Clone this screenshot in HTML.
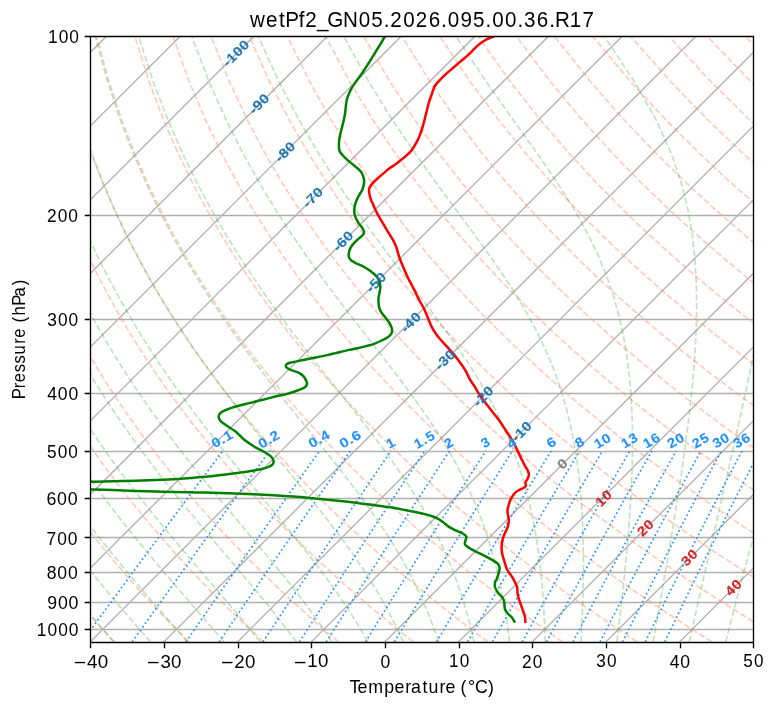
<!DOCTYPE html>
<html><head><meta charset="utf-8"><title>Skew-T wetPf2_GN05.2026.095.00.36.R17</title><style>html,body{margin:0;padding:0;background:#fff}body{width:775px;height:708px;overflow:hidden}svg{display:block;will-change:transform}text{white-space:pre;font-family:"Liberation Sans",sans-serif}</style></head><body><svg width="775" height="708" viewBox="0 0 775 708">
<defs><clipPath id="ax"><rect x="90.2" y="36.4" width="663" height="605.48"/></clipPath></defs>
<g clip-path="url(#ax)">
<g fill="none" stroke="#b0b0b0" stroke-width="1.33" stroke-linecap="square"><path d="M-572.8,641.88 L32.68,36.4"/><path d="M-499.13,641.88 L106.35,36.4"/><path d="M-425.47,641.88 L180.01,36.4"/><path d="M-351.8,641.88 L253.68,36.4"/><path d="M-278.13,641.88 L327.35,36.4"/><path d="M-204.47,641.88 L401.01,36.4"/><path d="M-130.8,641.88 L474.68,36.4"/><path d="M-57.13,641.88 L548.35,36.4"/><path d="M16.53,641.88 L622.01,36.4"/><path d="M90.2,641.88 L695.68,36.4"/><path d="M163.87,641.88 L769.35,36.4"/><path d="M237.53,641.88 L843.01,36.4"/><path d="M311.2,641.88 L916.68,36.4"/><path d="M384.87,641.88 L990.35,36.4"/><path d="M458.53,641.88 L1064.01,36.4"/><path d="M532.2,641.88 L1137.68,36.4"/><path d="M605.87,641.88 L1211.35,36.4"/><path d="M679.53,641.88 L1285.01,36.4"/><path d="M753.2,641.88 L1358.68,36.4"/><path d="M90.2,215.5 L753.2,215.5"/><path d="M90.2,319.5 L753.2,319.5"/><path d="M90.2,393.5 L753.2,393.5"/><path d="M90.2,451.5 L753.2,451.5"/><path d="M90.2,498.5 L753.2,498.5"/><path d="M90.2,537.5 L753.2,537.5"/><path d="M90.2,572.5 L753.2,572.5"/><path d="M90.2,602.5 L753.2,602.5"/><path d="M90.2,629.5 L753.2,629.5"/></g>
<g fill="none" stroke="#ff8c69" stroke-width="1.67" stroke-opacity="0.45" stroke-linecap="butt" stroke-dasharray="6.17 2.67"><path d="M114.31,641.88 109.86,637.08 105.38,632.19 100.86,627.2 96.3,622.12 91.71,616.94 87.09,611.64 82.42,606.24 77.72,600.72 72.98,595.08 68.2,589.32 63.38,583.42 58.52,577.38 53.62,571.2 48.68,564.86 43.69,558.37 38.66,551.71 33.59,544.87 28.47,537.85 23.31,530.63 18.1,523.19 12.84,515.54 7.54,507.66 2.19,499.52 -3.2,491.12 -8.65,482.44 -14.14,473.45 -19.68,464.14 -25.26,454.48 -30.89,444.45 -36.57,434 -42.29,423.12 -48.04,411.75 -53.84,399.86 -59.66,387.39 -65.51,374.29 -71.38,360.48 -77.25,345.9 -83.13,330.43 -88.97,313.98 -94.77,296.41 -100.5,277.55 -106.1,257.19 -111.54,235.09 -116.71,210.91 -121.53,184.23 -125.82,154.45 -129.33,120.78 -131.69,82.03 -132.26,36.4"/><path d="M189.01,641.88 184.16,637.08 179.28,632.19 174.35,627.2 169.38,622.12 164.37,616.94 159.32,611.64 154.23,606.24 149.09,600.72 143.9,595.08 138.67,589.32 133.39,583.42 128.06,577.38 122.69,571.2 117.26,564.86 111.78,558.37 106.25,551.71 100.67,544.87 95.03,537.85 89.33,530.63 83.58,523.19 77.77,515.54 71.91,507.66 65.98,499.52 59.99,491.12 53.94,482.44 47.83,473.45 41.65,464.14 35.41,454.48 29.11,444.45 22.75,434 16.32,423.12 9.82,411.75 3.27,399.86 -3.34,387.39 -10,374.29 -16.71,360.48 -23.47,345.9 -30.25,330.43 -37.05,313.98 -43.86,296.41 -50.64,277.55 -57.36,257.19 -63.97,235.09 -70.41,210.91 -76.57,184.23 -82.32,154.45 -87.43,120.78 -91.56,82.03 -94.11,36.4"/><path d="M263.71,641.88 258.47,637.08 253.18,632.19 247.85,627.2 242.46,622.12 237.04,616.94 231.56,611.64 226.03,606.24 220.45,600.72 214.82,595.08 209.14,589.32 203.4,583.42 197.6,577.38 191.75,571.2 185.84,564.86 179.87,558.37 173.84,551.71 167.75,544.87 161.59,537.85 155.36,530.63 149.07,523.19 142.7,515.54 136.27,507.66 129.77,499.52 123.19,491.12 116.53,482.44 109.8,473.45 102.98,464.14 96.09,454.48 89.12,444.45 82.06,434 74.92,423.12 67.69,411.75 60.38,399.86 52.99,387.39 45.51,374.29 37.96,360.48 30.32,345.9 22.62,330.43 14.86,313.98 7.06,296.41 -0.78,277.55 -8.61,257.19 -16.4,235.09 -24.1,210.91 -31.61,184.23 -38.82,154.45 -45.53,120.78 -51.42,82.03 -55.95,36.4"/><path d="M338.41,641.88 332.77,637.08 327.08,632.19 321.34,627.2 315.55,622.12 309.7,616.94 303.79,611.64 297.84,606.24 291.82,600.72 285.74,595.08 279.61,589.32 273.41,583.42 267.15,577.38 260.82,571.2 254.42,564.86 247.96,558.37 241.43,551.71 234.82,544.87 228.14,537.85 221.39,530.63 214.55,523.19 207.63,515.54 200.64,507.66 193.55,499.52 186.38,491.12 179.12,482.44 171.76,473.45 164.31,464.14 156.77,454.48 149.12,444.45 141.37,434 133.52,423.12 125.56,411.75 117.49,399.86 109.31,387.39 101.02,374.29 92.62,360.48 84.11,345.9 75.5,330.43 66.78,313.98 57.97,296.41 49.09,277.55 40.14,257.19 31.16,235.09 22.21,210.91 13.34,184.23 4.67,154.45 -3.63,120.78 -11.28,82.03 -17.8,36.4"/><path d="M413.11,641.88 407.08,637.08 400.98,632.19 394.83,627.2 388.63,622.12 382.36,616.94 376.03,611.64 369.64,606.24 363.18,600.72 356.66,595.08 350.08,589.32 343.42,583.42 336.69,577.38 329.89,571.2 323.01,564.86 316.05,558.37 309.02,551.71 301.9,544.87 294.7,537.85 287.41,530.63 280.03,523.19 272.56,515.54 265,507.66 257.34,499.52 249.57,491.12 241.71,482.44 233.73,473.45 225.64,464.14 217.44,454.48 209.13,444.45 200.69,434 192.12,423.12 183.43,411.75 174.6,399.86 165.63,387.39 156.53,374.29 147.29,360.48 137.9,345.9 128.37,330.43 118.7,313.98 108.89,296.41 98.95,277.55 88.89,257.19 78.73,235.09 68.52,210.91 58.3,184.23 48.17,154.45 38.27,120.78 28.85,82.03 20.36,36.4"/><path d="M487.81,641.88 481.38,637.08 474.89,632.19 468.33,627.2 461.71,622.12 455.02,616.94 448.27,611.64 441.44,606.24 434.55,600.72 427.58,595.08 420.54,589.32 413.43,583.42 406.23,577.38 398.95,571.2 391.59,564.86 384.14,558.37 376.61,551.71 368.98,544.87 361.26,537.85 353.44,530.63 345.52,523.19 337.5,515.54 329.36,507.66 321.12,499.52 312.77,491.12 304.29,482.44 295.7,473.45 286.98,464.14 278.12,454.48 269.13,444.45 260,434 250.72,423.12 241.29,411.75 231.71,399.86 221.96,387.39 212.04,374.29 201.96,360.48 191.69,345.9 181.25,330.43 170.62,313.98 159.8,296.41 148.81,277.55 137.63,257.19 126.3,235.09 114.82,210.91 103.25,184.23 91.66,154.45 80.17,120.78 68.99,82.03 58.51,36.4"/><path d="M562.51,641.88 555.68,637.08 548.79,632.19 541.82,627.2 534.79,622.12 527.68,616.94 520.5,611.64 513.25,606.24 505.92,600.72 498.51,595.08 491.01,589.32 483.43,583.42 475.77,577.38 468.02,571.2 460.17,564.86 452.23,558.37 444.19,551.71 436.06,544.87 427.81,537.85 419.46,530.63 411,523.19 402.43,515.54 393.73,507.66 384.91,499.52 375.96,491.12 366.88,482.44 357.67,473.45 348.31,464.14 338.8,454.48 329.14,444.45 319.31,434 309.32,423.12 299.16,411.75 288.81,399.86 278.28,387.39 267.55,374.29 256.62,360.48 245.48,345.9 234.12,330.43 222.54,313.98 210.72,296.41 198.67,277.55 186.38,257.19 173.86,235.09 161.13,210.91 148.21,184.23 135.16,154.45 122.07,120.78 109.13,82.03 96.67,36.4"/><path d="M637.22,641.88 629.99,637.08 622.69,632.19 615.32,627.2 607.87,622.12 600.34,616.94 592.74,611.64 585.05,606.24 577.28,600.72 569.43,595.08 561.48,589.32 553.44,583.42 545.31,577.38 537.08,571.2 528.76,564.86 520.32,558.37 511.78,551.71 503.13,544.87 494.37,537.85 485.49,530.63 476.49,523.19 467.36,515.54 458.09,507.66 448.7,499.52 439.16,491.12 429.47,482.44 419.63,473.45 409.64,464.14 399.47,454.48 389.14,444.45 378.63,434 367.92,423.12 357.03,411.75 345.92,399.86 334.61,387.39 323.07,374.29 311.29,360.48 299.27,345.9 287,330.43 274.45,313.98 261.63,296.41 248.53,277.55 235.13,257.19 221.43,235.09 207.44,210.91 193.17,184.23 178.65,154.45 163.97,120.78 149.26,82.03 134.82,36.4"/><path d="M711.92,641.88 704.29,637.08 696.59,632.19 688.81,627.2 680.95,622.12 673.01,616.94 664.98,611.64 656.86,606.24 648.65,600.72 640.35,595.08 631.95,589.32 623.45,583.42 614.85,577.38 606.15,571.2 597.34,564.86 588.41,558.37 579.37,551.71 570.21,544.87 560.93,537.85 551.52,530.63 541.97,523.19 532.29,515.54 522.46,507.66 512.48,499.52 502.35,491.12 492.06,482.44 481.6,473.45 470.97,464.14 460.15,454.48 449.14,444.45 437.94,434 426.52,423.12 414.89,411.75 403.03,399.86 390.93,387.39 378.58,374.29 365.96,360.48 353.06,345.9 339.87,330.43 326.37,313.98 312.55,296.41 298.39,277.55 283.88,257.19 269,235.09 253.75,210.91 238.12,184.23 222.15,154.45 205.87,120.78 189.4,82.03 172.98,36.4"/><path d="M776,635.51 770.49,632.19 762.31,627.2 754.03,622.12 745.67,616.94 737.21,611.64 728.66,606.24 720.02,600.72 711.27,595.08 702.42,589.32 693.46,583.42 684.4,577.38 675.22,571.2 665.92,564.86 656.5,558.37 646.96,551.71 637.29,544.87 627.48,537.85 617.54,530.63 607.45,523.19 597.22,515.54 586.82,507.66 576.27,499.52 565.55,491.12 554.65,482.44 543.57,473.45 532.3,464.14 520.83,454.48 509.15,444.45 497.25,434 485.13,423.12 472.76,411.75 460.14,399.86 447.25,387.39 434.09,374.29 420.63,360.48 406.85,345.9 392.74,330.43 378.29,313.98 363.47,296.41 348.25,277.55 332.62,257.19 316.56,235.09 300.05,210.91 283.08,184.23 265.64,154.45 247.77,120.78 229.54,82.03 211.13,36.4"/><path d="M776,591.25 772.89,589.32 763.47,583.42 753.94,577.38 744.28,571.2 734.5,564.86 724.59,558.37 714.55,551.71 704.37,544.87 694.04,537.85 683.57,530.63 672.94,523.19 662.15,515.54 651.19,507.66 640.06,499.52 628.74,491.12 617.24,482.44 605.54,473.45 593.63,464.14 581.5,454.48 569.15,444.45 556.57,434 543.73,423.12 530.63,411.75 517.25,399.86 503.58,387.39 489.6,374.29 475.29,360.48 460.64,345.9 445.62,330.43 430.21,313.98 414.38,296.41 398.11,277.55 381.37,257.19 364.13,235.09 346.36,210.91 328.04,184.23 309.14,154.45 289.67,120.78 269.68,82.03 249.29,36.4"/><path d="M776,547.78 771.45,544.87 760.6,537.85 749.59,530.63 738.42,523.19 727.08,515.54 715.55,507.66 703.84,499.52 691.94,491.12 679.83,482.44 667.5,473.45 654.96,464.14 642.18,454.48 629.16,444.45 615.88,434 602.33,423.12 588.49,411.75 574.36,399.86 559.9,387.39 545.11,374.29 529.96,360.48 514.43,345.9 498.49,330.43 482.13,313.98 465.3,296.41 447.97,277.55 430.12,257.19 411.7,235.09 392.67,210.91 372.99,184.23 352.64,154.45 331.57,120.78 309.81,82.03 287.45,36.4"/><path d="M776,505.07 767.63,499.52 755.13,491.12 742.41,482.44 729.47,473.45 716.29,464.14 702.86,454.48 689.16,444.45 675.19,434 660.93,423.12 646.36,411.75 631.46,399.86 616.23,387.39 600.62,374.29 584.63,360.48 568.22,345.9 551.37,330.43 534.04,313.98 516.21,296.41 497.83,277.55 478.87,257.19 459.26,235.09 438.98,210.91 417.95,184.23 396.13,154.45 373.47,120.78 349.95,82.03 325.6,36.4"/><path d="M776,463.03 763.54,454.48 749.17,444.45 734.51,434 719.53,423.12 704.23,411.75 688.57,399.86 672.55,387.39 656.13,374.29 639.29,360.48 622.01,345.9 604.24,330.43 585.96,313.98 567.13,296.41 547.69,277.55 527.61,257.19 506.83,235.09 485.28,210.91 462.91,184.23 439.63,154.45 415.37,120.78 390.09,82.03 363.76,36.4"/><path d="M776,421.6 762.09,411.75 745.68,399.86 728.87,387.39 711.64,374.29 693.96,360.48 675.8,345.9 657.12,330.43 637.88,313.98 618.04,296.41 597.56,277.55 576.36,257.19 554.4,235.09 531.59,210.91 507.86,184.23 483.12,154.45 457.27,120.78 430.22,82.03 401.91,36.4"/><path d="M776,380.71 767.15,374.29 748.63,360.48 729.59,345.9 709.99,330.43 689.8,313.98 668.96,296.41 647.42,277.55 625.11,257.19 601.96,235.09 577.9,210.91 552.82,184.23 526.62,154.45 499.17,120.78 470.36,82.03 440.07,36.4"/><path d="M776,340.34 762.87,330.43 741.72,313.98 719.87,296.41 697.28,277.55 673.86,257.19 649.53,235.09 624.21,210.91 597.78,184.23 570.11,154.45 541.07,120.78 510.5,82.03 478.22,36.4"/><path d="M776,300.42 770.79,296.41 747.14,277.55 722.6,257.19 697.1,235.09 670.51,210.91 642.73,184.23 613.61,154.45 582.97,120.78 550.63,82.03 516.38,36.4"/><path d="M776,260.88 771.35,257.19 744.66,235.09 716.82,210.91 687.69,184.23 657.1,154.45 624.87,120.78 590.77,82.03 554.53,36.4"/><path d="M776,221.61 763.13,210.91 732.64,184.23 700.6,154.45 666.77,120.78 630.91,82.03 592.69,36.4"/><path d="M776,182.8 744.09,154.45 708.67,120.78 671.05,82.03 630.84,36.4"/><path d="M776,143.91 750.57,120.78 711.18,82.03 669,36.4"/><path d="M776,105.27 751.32,82.03 707.16,36.4"/><path d="M776,66.75 745.31,36.4"/></g>
<g fill="none" stroke="#2ca02c" stroke-width="1.67" stroke-opacity="0.3" stroke-linecap="butt" stroke-dasharray="6.17 2.67"><path d="M113.65,641.88 109.47,637.08 105.24,632.19 100.95,627.2 96.61,622.12 92.21,616.94 87.76,611.64 83.25,606.24 78.69,600.72 74.08,595.08 69.41,589.32 64.69,583.42 59.92,577.38 55.09,571.2 50.21,564.86 45.28,558.37 40.3,551.71 35.26,544.87 30.17,537.85 25.03,530.63 19.84,523.19 14.6,515.54 9.3,507.66 3.96,499.52 -1.44,491.12 -6.89,482.44 -12.39,473.45 -17.94,464.14 -23.53,454.48 -29.18,444.45 -34.87,434 -40.6,423.12 -46.38,411.75 -52.19,399.86 -58.04,387.39 -63.91,374.29 -69.8,360.48 -75.7,345.9 -81.6,330.43 -87.48,313.98 -93.31,296.41 -99.06,277.55 -104.7,257.19 -110.16,235.09 -115.38,210.91 -120.23,184.23 -124.56,154.45 -128.12,120.78 -130.54,82.03 -131.16,36.4"/><path d="M150.61,641.88 146.4,637.08 142.11,632.19 137.76,627.2 133.33,622.12 128.84,616.94 124.29,611.64 119.67,606.24 114.98,600.72 110.22,595.08 105.4,589.32 100.52,583.42 95.57,577.38 90.56,571.2 85.49,564.86 80.35,558.37 75.15,551.71 69.89,544.87 64.57,537.85 59.18,530.63 53.73,523.19 48.23,515.54 42.66,507.66 37.03,499.52 31.33,491.12 25.58,482.44 19.77,473.45 13.9,464.14 7.97,454.48 1.98,444.45 -4.07,434 -10.17,423.12 -16.32,411.75 -22.53,399.86 -28.78,387.39 -35.08,374.29 -41.41,360.48 -47.76,345.9 -54.14,330.43 -60.51,313.98 -66.86,296.41 -73.16,277.55 -79.38,257.19 -85.46,235.09 -91.32,210.91 -96.88,184.23 -101.97,154.45 -106.36,120.78 -109.69,82.03 -111.34,36.4"/><path d="M187.41,641.88 183.22,637.08 178.94,632.19 174.59,627.2 170.14,622.12 165.62,616.94 161.02,611.64 156.33,606.24 151.56,600.72 146.71,595.08 141.79,589.32 136.78,583.42 131.7,577.38 126.53,571.2 121.29,564.86 115.98,558.37 110.58,551.71 105.11,544.87 99.57,537.85 93.95,530.63 88.26,523.19 82.5,515.54 76.66,507.66 70.75,499.52 64.77,491.12 58.72,482.44 52.59,473.45 46.4,464.14 40.13,454.48 33.79,444.45 27.39,434 20.91,423.12 14.37,411.75 7.77,399.86 1.1,387.39 -5.62,374.29 -12.4,360.48 -19.22,345.9 -26.08,330.43 -32.96,313.98 -39.84,296.41 -46.7,277.55 -53.51,257.19 -60.21,235.09 -66.75,210.91 -73.02,184.23 -78.89,154.45 -84.12,120.78 -88.39,82.03 -91.1,36.4"/><path d="M224,641.88 219.91,637.08 215.73,632.19 211.45,627.2 207.07,622.12 202.59,616.94 198.01,611.64 193.33,606.24 188.55,600.72 183.68,595.08 178.7,589.32 173.63,583.42 168.46,577.38 163.19,571.2 157.83,564.86 152.38,558.37 146.83,551.71 141.19,544.87 135.45,537.85 129.63,530.63 123.72,523.19 117.72,515.54 111.63,507.66 105.45,499.52 99.19,491.12 92.84,482.44 86.4,473.45 79.88,464.14 73.28,454.48 66.59,444.45 59.82,434 52.96,423.12 46.03,411.75 39.01,399.86 31.92,387.39 24.76,374.29 17.52,360.48 10.22,345.9 2.86,330.43 -4.54,313.98 -11.97,296.41 -19.41,277.55 -26.82,257.19 -34.18,235.09 -41.4,210.91 -48.41,184.23 -55.08,154.45 -61.19,120.78 -66.42,82.03 -70.21,36.4"/><path d="M260.33,641.88 256.45,637.08 252.46,632.19 248.35,627.2 244.13,622.12 239.79,616.94 235.33,611.64 230.76,606.24 226.06,600.72 221.25,595.08 216.31,589.32 211.25,583.42 206.08,577.38 200.78,571.2 195.37,564.86 189.84,558.37 184.19,551.71 178.43,544.87 172.56,537.85 166.57,530.63 160.47,523.19 154.26,515.54 147.95,507.66 141.52,499.52 134.99,491.12 128.36,482.44 121.62,473.45 114.78,464.14 107.84,454.48 100.8,444.45 93.65,434 86.41,423.12 79.07,411.75 71.64,399.86 64.1,387.39 56.48,374.29 48.77,360.48 40.97,345.9 33.09,330.43 25.14,313.98 17.14,296.41 9.1,277.55 1.05,257.19 -6.98,235.09 -14.93,210.91 -22.71,184.23 -30.21,154.45 -37.23,120.78 -43.47,82.03 -48.4,36.4"/><path d="M296.4,641.88 292.82,637.08 289.13,632.19 285.3,627.2 281.35,622.12 277.27,616.94 273.05,611.64 268.69,606.24 264.19,600.72 259.55,595.08 254.77,589.32 249.84,583.42 244.77,577.38 239.55,571.2 234.19,564.86 228.68,558.37 223.03,551.71 217.23,544.87 211.29,537.85 205.21,530.63 198.99,523.19 192.63,515.54 186.13,507.66 179.5,499.52 172.74,491.12 165.85,482.44 158.82,473.45 151.68,464.14 144.41,454.48 137.01,444.45 129.49,434 121.86,423.12 114.1,411.75 106.23,399.86 98.24,387.39 90.13,374.29 81.91,360.48 73.59,345.9 65.16,330.43 56.64,313.98 48.03,296.41 39.35,277.55 30.62,257.19 21.88,235.09 13.17,210.91 4.56,184.23 -3.82,154.45 -11.81,120.78 -19.12,82.03 -25.25,36.4"/><path d="M332.21,641.88 329.03,637.08 325.73,632.19 322.3,627.2 318.73,622.12 315.02,616.94 311.16,611.64 307.16,606.24 302.99,600.72 298.67,595.08 294.19,589.32 289.53,583.42 284.71,577.38 279.72,571.2 274.54,564.86 269.2,558.37 263.67,551.71 257.97,544.87 252.09,537.85 246.02,530.63 239.79,523.19 233.37,515.54 226.78,507.66 220.02,499.52 213.09,491.12 206,482.44 198.74,473.45 191.32,464.14 183.74,454.48 176.01,444.45 168.13,434 160.09,423.12 151.91,411.75 143.58,399.86 135.11,387.39 126.5,374.29 117.75,360.48 108.86,345.9 99.84,330.43 90.7,313.98 81.44,296.41 72.07,277.55 62.61,257.19 53.09,235.09 43.56,210.91 34.07,184.23 24.72,154.45 15.69,120.78 7.22,82.03 -0.21,36.4"/><path d="M367.8,641.88 365.11,637.08 362.29,632.19 359.34,627.2 356.26,622.12 353.04,616.94 349.67,611.64 346.14,606.24 342.46,600.72 338.6,595.08 334.57,589.32 330.36,583.42 325.97,577.38 321.37,571.2 316.58,564.86 311.58,558.37 306.37,551.71 300.95,544.87 295.31,537.85 289.45,530.63 283.37,523.19 277.06,515.54 270.54,507.66 263.79,499.52 256.82,491.12 249.63,482.44 242.23,473.45 234.62,464.14 226.8,454.48 218.78,444.45 210.56,434 202.15,423.12 193.54,411.75 184.76,399.86 175.79,387.39 166.64,374.29 157.32,360.48 147.83,345.9 138.17,330.43 128.35,313.98 118.37,296.41 108.24,277.55 97.98,257.19 87.61,235.09 77.16,210.91 66.69,184.23 56.28,154.45 46.09,120.78 36.34,82.03 27.48,36.4"/><path d="M403.25,641.88 401.08,637.08 398.8,632.19 396.41,627.2 393.89,622.12 391.25,616.94 388.47,611.64 385.54,606.24 382.46,600.72 379.21,595.08 375.8,589.32 372.2,583.42 368.41,577.38 364.41,571.2 360.21,564.86 355.79,558.37 351.13,551.71 346.23,544.87 341.09,537.85 335.68,530.63 330.02,523.19 324.07,515.54 317.86,507.66 311.36,499.52 304.58,491.12 297.51,482.44 290.16,473.45 282.53,464.14 274.62,454.48 266.44,444.45 257.99,434 249.28,423.12 240.31,411.75 231.1,399.86 221.64,387.39 211.95,374.29 202.03,360.48 191.89,345.9 181.53,330.43 170.95,313.98 160.18,296.41 149.2,277.55 138.03,257.19 126.69,235.09 115.21,210.91 103.64,184.23 92.03,154.45 80.53,120.78 69.33,82.03 58.84,36.4"/><path d="M438.62,641.88 437,637.08 435.3,632.19 433.49,627.2 431.58,622.12 429.57,616.94 427.44,611.64 425.18,606.24 422.79,600.72 420.25,595.08 417.56,589.32 414.71,583.42 411.68,577.38 408.46,571.2 405.04,564.86 401.41,558.37 397.55,551.71 393.44,544.87 389.08,537.85 384.44,530.63 379.51,523.19 374.28,515.54 368.74,507.66 362.86,499.52 356.63,491.12 350.05,482.44 343.11,473.45 335.8,464.14 328.12,454.48 320.06,444.45 311.63,434 302.84,423.12 293.68,411.75 284.18,399.86 274.33,387.39 264.15,374.29 253.65,360.48 242.85,345.9 231.75,330.43 220.35,313.98 208.68,296.41 196.74,277.55 184.54,257.19 172.09,235.09 159.42,210.91 146.56,184.23 133.56,154.45 120.53,120.78 107.65,82.03 95.27,36.4"/><path d="M474.02,641.88 472.94,637.08 471.79,632.19 470.57,627.2 469.28,622.12 467.9,616.94 466.43,611.64 464.86,606.24 463.19,600.72 461.4,595.08 459.49,589.32 457.45,583.42 455.27,577.38 452.93,571.2 450.42,564.86 447.73,558.37 444.84,551.71 441.74,544.87 438.4,537.85 434.81,530.63 430.95,523.19 426.79,515.54 422.31,507.66 417.49,499.52 412.3,491.12 406.72,482.44 400.72,473.45 394.28,464.14 387.38,454.48 380,444.45 372.13,434 363.74,423.12 354.85,411.75 345.45,399.86 335.54,387.39 325.14,374.29 314.26,360.48 302.91,345.9 291.12,330.43 278.91,313.98 266.29,296.41 253.28,277.55 239.9,257.19 226.16,235.09 212.09,210.91 197.7,184.23 183.05,154.45 168.21,120.78 153.33,82.03 138.69,36.4"/><path d="M509.51,641.88 508.93,637.08 508.31,632.19 507.64,627.2 506.92,622.12 506.14,616.94 505.3,611.64 504.39,606.24 503.42,600.72 502.36,595.08 501.22,589.32 499.98,583.42 498.64,577.38 497.19,571.2 495.62,564.86 493.91,558.37 492.05,551.71 490.04,544.87 487.84,537.85 485.44,530.63 482.83,523.19 479.98,515.54 476.86,507.66 473.44,499.52 469.7,491.12 465.61,482.44 461.11,473.45 456.19,464.14 450.78,454.48 444.86,444.45 438.38,434 431.28,423.12 423.54,411.75 415.12,399.86 405.98,387.39 396.12,374.29 385.51,360.48 374.17,345.9 362.11,330.43 349.36,313.98 335.94,296.41 321.9,277.55 307.27,257.19 292.09,235.09 276.38,210.91 260.19,184.23 243.54,154.45 226.49,120.78 209.16,82.03 191.76,36.4"/><path d="M545.14,641.88 545.01,637.08 544.86,632.19 544.69,627.2 544.48,622.12 544.24,616.94 543.97,611.64 543.66,606.24 543.3,600.72 542.91,595.08 542.46,589.32 541.95,583.42 541.39,577.38 540.75,571.2 540.05,564.86 539.26,558.37 538.37,551.71 537.39,544.87 536.29,537.85 535.06,530.63 533.68,523.19 532.15,515.54 530.44,507.66 528.53,499.52 526.38,491.12 523.98,482.44 521.28,473.45 518.25,464.14 514.84,454.48 511.01,444.45 506.69,434 501.81,423.12 496.31,411.75 490.1,399.86 483.1,387.39 475.23,374.29 466.4,360.48 456.52,345.9 445.55,330.43 433.45,313.98 420.2,296.41 405.82,277.55 390.37,257.19 373.91,235.09 356.52,210.91 338.27,184.23 319.24,154.45 299.5,120.78 279.12,82.03 258.28,36.4"/><path d="M580.94,641.88 581.2,637.08 581.45,632.19 581.7,627.2 581.94,622.12 582.16,616.94 582.38,611.64 582.57,606.24 582.76,600.72 582.92,595.08 583.07,589.32 583.19,583.42 583.28,577.38 583.35,571.2 583.38,564.86 583.37,558.37 583.32,551.71 583.22,544.87 583.07,537.85 582.85,530.63 582.56,523.19 582.19,515.54 581.72,507.66 581.15,499.52 580.45,491.12 579.61,482.44 578.6,473.45 577.4,464.14 575.98,454.48 574.3,444.45 572.31,434 569.97,423.12 567.21,411.75 563.94,399.86 560.09,387.39 555.54,374.29 550.15,360.48 543.78,345.9 536.25,330.43 527.38,313.98 516.95,296.41 504.8,277.55 490.77,257.19 474.81,235.09 456.91,210.91 437.21,184.23 415.85,154.45 393.04,120.78 368.95,82.03 343.75,36.4"/><path d="M616.9,641.88 617.49,637.08 618.08,632.19 618.68,627.2 619.29,622.12 619.9,616.94 620.51,611.64 621.13,606.24 621.75,600.72 622.38,595.08 623.01,589.32 623.64,583.42 624.27,577.38 624.9,571.2 625.53,564.86 626.16,558.37 626.78,551.71 627.39,544.87 627.99,537.85 628.58,530.63 629.15,523.19 629.71,515.54 630.23,507.66 630.73,499.52 631.18,491.12 631.59,482.44 631.94,473.45 632.22,464.14 632.41,454.48 632.5,444.45 632.47,434 632.28,423.12 631.9,411.75 631.29,399.86 630.4,387.39 629.16,374.29 627.47,360.48 625.24,345.9 622.31,330.43 618.5,313.98 613.56,296.41 607.18,277.55 598.97,257.19 588.44,235.09 575.06,210.91 558.33,184.23 537.93,154.45 513.86,120.78 486.44,82.03 456.21,36.4"/><path d="M653.04,641.88 653.89,637.08 654.75,632.19 655.64,627.2 656.54,622.12 657.45,616.94 658.39,611.64 659.34,606.24 660.31,600.72 661.3,595.08 662.31,589.32 663.34,583.42 664.39,577.38 665.47,571.2 666.56,564.86 667.67,558.37 668.81,551.71 669.97,544.87 671.15,537.85 672.35,530.63 673.58,523.19 674.83,515.54 676.1,507.66 677.39,499.52 678.7,491.12 680.03,482.44 681.38,473.45 682.74,464.14 684.11,454.48 685.49,444.45 686.86,434 688.23,423.12 689.58,411.75 690.9,399.86 692.17,387.39 693.36,374.29 694.45,360.48 695.38,345.9 696.11,330.43 696.55,313.98 696.58,296.41 696.05,277.55 694.73,257.19 692.27,235.09 688.17,210.91 681.67,184.23 671.65,154.45 656.56,120.78 634.6,82.03 604.48,36.4"/><path d="M689.32,641.88 690.38,637.08 691.46,632.19 692.56,627.2 693.69,622.12 694.85,616.94 696.03,611.64 697.24,606.24 698.48,600.72 699.75,595.08 701.05,589.32 702.39,583.42 703.76,577.38 705.16,571.2 706.6,564.86 708.09,558.37 709.61,551.71 711.17,544.87 712.78,537.85 714.43,530.63 716.14,523.19 717.89,515.54 719.7,507.66 721.57,499.52 723.49,491.12 725.47,482.44 727.52,473.45 729.64,464.14 731.83,454.48 734.09,444.45 736.43,434 738.86,423.12 741.37,411.75 743.96,399.86 746.65,387.39 749.43,374.29 752.3,360.48 755.27,345.9 758.32,330.43 761.45,313.98 764.64,296.41 767.86,277.55 771.06,257.19 774.16,235.09 777.01,210.91 779.37,184.23 780.81,154.45 780.55,120.78 777.07,82.03 767.36,36.4"/><path d="M725.74,641.88 726.96,637.08 728.2,632.19 729.47,627.2 730.77,622.12 732.11,616.94 733.48,611.64 734.88,606.24 736.32,600.72 737.8,595.08 739.32,589.32 740.88,583.42 742.48,577.38 744.13,571.2 745.83,564.86 747.57,558.37 749.37,551.71 751.23,544.87 753.15,537.85 755.13,530.63 757.17,523.19 759.28,515.54 761.47,507.66 763.74,499.52 766.09,491.12 768.52,482.44 771.06,473.45 773.69,464.14 776.43,454.48 779.29,444.45 782.28,434 785.39,423.12 788.66,411.75 792.08,399.86 795.68,387.39 799.46,374.29 803.44,360.48 807.65,345.9 812.11,330.43 816.84,313.98 821.87,296.41 827.23,277.55 832.96,257.19 839.1,235.09 845.68,210.91 852.75,184.23 860.33,154.45 868.38,120.78 876.76,82.03 884.98,36.4"/></g>
<g fill="none" stroke="#1e90ff" stroke-width="1.67" stroke-linecap="butt" stroke-dasharray="1.67 2.75"><path d="M82.01,641.88 84.03,639.11 86.06,636.31 88.12,633.49 90.21,630.63 92.32,627.73 94.45,624.81 96.61,621.85 98.79,618.86 101,615.83 103.24,612.77 105.5,609.67 107.8,606.53 110.12,603.35 112.47,600.13 114.86,596.88 117.28,593.58 119.72,590.23 122.21,586.85 124.72,583.42 127.27,579.94 129.86,576.41 132.48,572.84 135.15,569.22 137.85,565.54 140.59,561.81 143.37,558.03 146.2,554.18 149.07,550.29 151.99,546.33 154.95,542.31 157.96,538.22 161.03,534.07 164.14,529.85 167.31,525.56 170.53,521.2 173.81,516.77 177.15,512.25 180.55,507.66 184.02,502.98 187.55,498.22 191.15,493.36 194.82,488.41 198.57,483.37 202.39,478.22 206.29,472.97 210.28,467.61 214.36,462.14 218.52,456.55 222.78,450.83"/><path d="M132.25,641.88 134.21,639.11 136.2,636.31 138.2,633.49 140.23,630.63 142.29,627.73 144.37,624.81 146.47,621.85 148.6,618.86 150.75,615.83 152.94,612.77 155.14,609.67 157.38,606.53 159.65,603.35 161.94,600.13 164.27,596.88 166.62,593.58 169.01,590.23 171.43,586.85 173.88,583.42 176.37,579.94 178.9,576.41 181.46,572.84 184.05,569.22 186.69,565.54 189.37,561.81 192.08,558.03 194.84,554.18 197.64,550.29 200.49,546.33 203.38,542.31 206.32,538.22 209.31,534.07 212.35,529.85 215.44,525.56 218.59,521.2 221.79,516.77 225.05,512.25 228.38,507.66 231.76,502.98 235.21,498.22 238.73,493.36 242.31,488.41 245.97,483.37 249.71,478.22 253.52,472.97 257.42,467.61 261.4,462.14 265.47,456.55 269.64,450.83"/><path d="M185.98,641.88 187.88,639.11 189.81,636.31 191.76,633.49 193.73,630.63 195.73,627.73 197.74,624.81 199.79,621.85 201.86,618.86 203.95,615.83 206.07,612.77 208.21,609.67 210.39,606.53 212.59,603.35 214.82,600.13 217.08,596.88 219.37,593.58 221.69,590.23 224.04,586.85 226.43,583.42 228.84,579.94 231.3,576.41 233.79,572.84 236.31,569.22 238.88,565.54 241.48,561.81 244.12,558.03 246.8,554.18 249.53,550.29 252.3,546.33 255.11,542.31 257.97,538.22 260.88,534.07 263.84,529.85 266.85,525.56 269.91,521.2 273.03,516.77 276.2,512.25 279.44,507.66 282.73,502.98 286.09,498.22 289.51,493.36 293.01,488.41 296.57,483.37 300.21,478.22 303.92,472.97 307.72,467.61 311.6,462.14 315.57,456.55 319.63,450.83"/><path d="M219.17,641.88 221.04,639.11 222.93,636.31 224.84,633.49 226.77,630.63 228.73,627.73 230.71,624.81 232.72,621.85 234.75,618.86 236.8,615.83 238.88,612.77 240.99,609.67 243.12,606.53 245.28,603.35 247.47,600.13 249.69,596.88 251.93,593.58 254.21,590.23 256.52,586.85 258.86,583.42 261.24,579.94 263.65,576.41 266.09,572.84 268.57,569.22 271.09,565.54 273.64,561.81 276.24,558.03 278.87,554.18 281.55,550.29 284.27,546.33 287.03,542.31 289.84,538.22 292.7,534.07 295.61,529.85 298.56,525.56 301.57,521.2 304.64,516.77 307.76,512.25 310.94,507.66 314.17,502.98 317.47,498.22 320.84,493.36 324.27,488.41 327.78,483.37 331.35,478.22 335.01,472.97 338.74,467.61 342.55,462.14 346.46,456.55 350.45,450.83"/><path d="M262.98,641.88 264.8,639.11 266.64,636.31 268.5,633.49 270.39,630.63 272.3,627.73 274.23,624.81 276.18,621.85 278.15,618.86 280.16,615.83 282.18,612.77 284.23,609.67 286.31,606.53 288.42,603.35 290.55,600.13 292.71,596.88 294.9,593.58 297.12,590.23 299.38,586.85 301.66,583.42 303.97,579.94 306.32,576.41 308.71,572.84 311.12,569.22 313.58,565.54 316.07,561.81 318.6,558.03 321.17,554.18 323.78,550.29 326.44,546.33 329.13,542.31 331.88,538.22 334.66,534.07 337.5,529.85 340.39,525.56 343.32,521.2 346.32,516.77 349.36,512.25 352.46,507.66 355.63,502.98 358.85,498.22 362.14,493.36 365.49,488.41 368.91,483.37 372.41,478.22 375.98,472.97 379.62,467.61 383.35,462.14 387.16,456.55 391.06,450.83"/><path d="M299.45,641.88 301.22,639.11 303.02,636.31 304.84,633.49 306.68,630.63 308.55,627.73 310.43,624.81 312.34,621.85 314.27,618.86 316.23,615.83 318.21,612.77 320.22,609.67 322.25,606.53 324.31,603.35 326.39,600.13 328.51,596.88 330.65,593.58 332.82,590.23 335.02,586.85 337.26,583.42 339.52,579.94 341.82,576.41 344.15,572.84 346.52,569.22 348.92,565.54 351.36,561.81 353.83,558.03 356.35,554.18 358.9,550.29 361.5,546.33 364.14,542.31 366.82,538.22 369.55,534.07 372.33,529.85 375.16,525.56 378.03,521.2 380.96,516.77 383.94,512.25 386.98,507.66 390.08,502.98 393.24,498.22 396.46,493.36 399.74,488.41 403.1,483.37 406.52,478.22 410.02,472.97 413.59,467.61 417.24,462.14 420.98,456.55 424.81,450.83"/><path d="M326.28,641.88 328.02,639.11 329.79,636.31 331.58,633.49 333.39,630.63 335.22,627.73 337.07,624.81 338.95,621.85 340.85,618.86 342.77,615.83 344.71,612.77 346.69,609.67 348.68,606.53 350.71,603.35 352.76,600.13 354.84,596.88 356.94,593.58 359.08,590.23 361.24,586.85 363.44,583.42 365.66,579.94 367.92,576.41 370.22,572.84 372.54,569.22 374.9,565.54 377.3,561.81 379.74,558.03 382.21,554.18 384.73,550.29 387.28,546.33 389.88,542.31 392.52,538.22 395.2,534.07 397.94,529.85 400.72,525.56 403.55,521.2 406.43,516.77 409.37,512.25 412.36,507.66 415.4,502.98 418.51,498.22 421.68,493.36 424.92,488.41 428.22,483.37 431.59,478.22 435.03,472.97 438.55,467.61 442.15,462.14 445.83,456.55 449.6,450.83"/><path d="M365.51,641.88 367.21,639.11 368.93,636.31 370.67,633.49 372.43,630.63 374.21,627.73 376.02,624.81 377.84,621.85 379.69,618.86 381.56,615.83 383.46,612.77 385.38,609.67 387.33,606.53 389.3,603.35 391.29,600.13 393.32,596.88 395.37,593.58 397.45,590.23 399.56,586.85 401.7,583.42 403.87,579.94 406.07,576.41 408.31,572.84 410.58,569.22 412.88,565.54 415.22,561.81 417.59,558.03 420.01,554.18 422.46,550.29 424.95,546.33 427.48,542.31 430.06,538.22 432.68,534.07 435.34,529.85 438.06,525.56 440.82,521.2 443.63,516.77 446.5,512.25 449.42,507.66 452.39,502.98 455.43,498.22 458.52,493.36 461.68,488.41 464.91,483.37 468.2,478.22 471.56,472.97 475,467.61 478.52,462.14 482.11,456.55 485.79,450.83"/><path d="M394.39,641.88 396.05,639.11 397.74,636.31 399.44,633.49 401.17,630.63 402.92,627.73 404.68,624.81 406.47,621.85 408.28,618.86 410.12,615.83 411.98,612.77 413.86,609.67 415.76,606.53 417.7,603.35 419.65,600.13 421.64,596.88 423.65,593.58 425.69,590.23 427.76,586.85 429.85,583.42 431.98,579.94 434.14,576.41 436.33,572.84 438.56,569.22 440.82,565.54 443.11,561.81 445.44,558.03 447.81,554.18 450.21,550.29 452.66,546.33 455.14,542.31 457.67,538.22 460.24,534.07 462.86,529.85 465.52,525.56 468.23,521.2 470.99,516.77 473.81,512.25 476.67,507.66 479.59,502.98 482.57,498.22 485.61,493.36 488.71,488.41 491.88,483.37 495.11,478.22 498.42,472.97 501.8,467.61 505.25,462.14 508.78,456.55 512.4,450.83"/><path d="M436.63,641.88 438.24,639.11 439.87,636.31 441.52,633.49 443.2,630.63 444.89,627.73 446.6,624.81 448.34,621.85 450.09,618.86 451.87,615.83 453.67,612.77 455.49,609.67 457.34,606.53 459.22,603.35 461.11,600.13 463.04,596.88 464.99,593.58 466.97,590.23 468.98,586.85 471.01,583.42 473.08,579.94 475.17,576.41 477.3,572.84 479.46,569.22 481.65,565.54 483.88,561.81 486.14,558.03 488.44,554.18 490.77,550.29 493.15,546.33 495.56,542.31 498.02,538.22 500.52,534.07 503.06,529.85 505.65,525.56 508.28,521.2 510.96,516.77 513.7,512.25 516.49,507.66 519.33,502.98 522.22,498.22 525.18,493.36 528.2,488.41 531.28,483.37 534.42,478.22 537.64,472.97 540.93,467.61 544.29,462.14 547.73,456.55 551.25,450.83"/><path d="M467.71,641.88 469.29,639.11 470.88,636.31 472.49,633.49 474.12,630.63 475.78,627.73 477.45,624.81 479.14,621.85 480.85,618.86 482.59,615.83 484.35,612.77 486.13,609.67 487.94,606.53 489.76,603.35 491.62,600.13 493.5,596.88 495.4,593.58 497.34,590.23 499.3,586.85 501.29,583.42 503.3,579.94 505.35,576.41 507.43,572.84 509.54,569.22 511.68,565.54 513.86,561.81 516.07,558.03 518.32,554.18 520.6,550.29 522.92,546.33 525.28,542.31 527.69,538.22 530.13,534.07 532.62,529.85 535.15,525.56 537.73,521.2 540.35,516.77 543.03,512.25 545.75,507.66 548.53,502.98 551.37,498.22 554.26,493.36 557.22,488.41 560.23,483.37 563.32,478.22 566.46,472.97 569.68,467.61 572.98,462.14 576.35,456.55 579.8,450.83"/><path d="M492.48,641.88 494.02,639.11 495.58,636.31 497.16,633.49 498.76,630.63 500.38,627.73 502.02,624.81 503.68,621.85 505.36,618.86 507.06,615.83 508.78,612.77 510.53,609.67 512.3,606.53 514.09,603.35 515.91,600.13 517.75,596.88 519.62,593.58 521.52,590.23 523.44,586.85 525.39,583.42 527.37,579.94 529.38,576.41 531.42,572.84 533.49,569.22 535.59,565.54 537.73,561.81 539.9,558.03 542.11,554.18 544.35,550.29 546.63,546.33 548.95,542.31 551.3,538.22 553.7,534.07 556.14,529.85 558.63,525.56 561.16,521.2 563.74,516.77 566.37,512.25 569.05,507.66 571.78,502.98 574.57,498.22 577.41,493.36 580.31,488.41 583.28,483.37 586.3,478.22 589.4,472.97 592.56,467.61 595.8,462.14 599.11,456.55 602.51,450.83"/><path d="M522.33,641.88 523.83,639.11 525.35,636.31 526.89,633.49 528.45,630.63 530.03,627.73 531.63,624.81 533.24,621.85 534.88,618.86 536.54,615.83 538.22,612.77 539.93,609.67 541.66,606.53 543.41,603.35 545.18,600.13 546.98,596.88 548.8,593.58 550.65,590.23 552.53,586.85 554.44,583.42 556.37,579.94 558.33,576.41 560.32,572.84 562.34,569.22 564.4,565.54 566.49,561.81 568.61,558.03 570.76,554.18 572.95,550.29 575.18,546.33 577.44,542.31 579.75,538.22 582.09,534.07 584.48,529.85 586.91,525.56 589.39,521.2 591.91,516.77 594.48,512.25 597.1,507.66 599.77,502.98 602.5,498.22 605.28,493.36 608.12,488.41 611.02,483.37 613.98,478.22 617.01,472.97 620.11,467.61 623.28,462.14 626.52,456.55 629.85,450.83"/><path d="M546.5,641.88 547.97,639.11 549.46,636.31 550.97,633.49 552.5,630.63 554.04,627.73 555.61,624.81 557.19,621.85 558.8,618.86 560.42,615.83 562.07,612.77 563.74,609.67 565.43,606.53 567.15,603.35 568.88,600.13 570.65,596.88 572.43,593.58 574.25,590.23 576.09,586.85 577.95,583.42 579.85,579.94 581.77,576.41 583.72,572.84 585.71,569.22 587.72,565.54 589.77,561.81 591.85,558.03 593.96,554.18 596.11,550.29 598.29,546.33 600.51,542.31 602.77,538.22 605.08,534.07 607.42,529.85 609.8,525.56 612.23,521.2 614.71,516.77 617.23,512.25 619.8,507.66 622.42,502.98 625.1,498.22 627.83,493.36 630.62,488.41 633.47,483.37 636.38,478.22 639.36,472.97 642.4,467.61 645.51,462.14 648.7,456.55 651.97,450.83"/><path d="M573.02,641.88 574.46,639.11 575.91,636.31 577.38,633.49 578.87,630.63 580.38,627.73 581.91,624.81 583.46,621.85 585.02,618.86 586.61,615.83 588.22,612.77 589.85,609.67 591.5,606.53 593.18,603.35 594.88,600.13 596.6,596.88 598.35,593.58 600.12,590.23 601.92,586.85 603.74,583.42 605.59,579.94 607.47,576.41 609.38,572.84 611.32,569.22 613.29,565.54 615.29,561.81 617.32,558.03 619.39,554.18 621.49,550.29 623.63,546.33 625.8,542.31 628.02,538.22 630.27,534.07 632.56,529.85 634.89,525.56 637.27,521.2 639.7,516.77 642.17,512.25 644.68,507.66 647.25,502.98 649.87,498.22 652.55,493.36 655.28,488.41 658.07,483.37 660.92,478.22 663.84,472.97 666.82,467.61 669.87,462.14 673,456.55 676.2,450.83"/><path d="M600.08,641.88 601.48,639.11 602.9,636.31 604.33,633.49 605.78,630.63 607.25,627.73 608.74,624.81 610.25,621.85 611.78,618.86 613.33,615.83 614.9,612.77 616.49,609.67 618.1,606.53 619.73,603.35 621.39,600.13 623.07,596.88 624.78,593.58 626.51,590.23 628.26,586.85 630.04,583.42 631.85,579.94 633.68,576.41 635.55,572.84 637.44,569.22 639.36,565.54 641.32,561.81 643.31,558.03 645.32,554.18 647.38,550.29 649.47,546.33 651.59,542.31 653.75,538.22 655.95,534.07 658.19,529.85 660.48,525.56 662.8,521.2 665.17,516.77 667.59,512.25 670.05,507.66 672.56,502.98 675.13,498.22 677.74,493.36 680.42,488.41 683.15,483.37 685.94,478.22 688.79,472.97 691.71,467.61 694.7,462.14 697.76,456.55 700.9,450.83"/><path d="M622.56,641.88 623.93,639.11 625.32,636.31 626.72,633.49 628.14,630.63 629.58,627.73 631.04,624.81 632.51,621.85 634.01,618.86 635.53,615.83 637.06,612.77 638.62,609.67 640.2,606.53 641.8,603.35 643.42,600.13 645.06,596.88 646.73,593.58 648.43,590.23 650.14,586.85 651.89,583.42 653.66,579.94 655.46,576.41 657.28,572.84 659.14,569.22 661.02,565.54 662.94,561.81 664.88,558.03 666.86,554.18 668.88,550.29 670.92,546.33 673.01,542.31 675.13,538.22 677.28,534.07 679.48,529.85 681.72,525.56 684,521.2 686.32,516.77 688.69,512.25 691.11,507.66 693.58,502.98 696.09,498.22 698.66,493.36 701.29,488.41 703.97,483.37 706.71,478.22 709.51,472.97 712.38,467.61 715.31,462.14 718.32,456.55 721.4,450.83"/><path d="M645.36,641.88 646.7,639.11 648.05,636.31 649.43,633.49 650.81,630.63 652.22,627.73 653.64,624.81 655.09,621.85 656.55,618.86 658.03,615.83 659.53,612.77 661.05,609.67 662.6,606.53 664.16,603.35 665.75,600.13 667.36,596.88 668.99,593.58 670.65,590.23 672.33,586.85 674.04,583.42 675.77,579.94 677.53,576.41 679.31,572.84 681.13,569.22 682.98,565.54 684.85,561.81 686.76,558.03 688.69,554.18 690.66,550.29 692.67,546.33 694.71,542.31 696.79,538.22 698.9,534.07 701.05,529.85 703.25,525.56 705.48,521.2 707.76,516.77 710.08,512.25 712.45,507.66 714.87,502.98 717.34,498.22 719.86,493.36 722.43,488.41 725.06,483.37 727.75,478.22 730.5,472.97 733.31,467.61 736.19,462.14 739.14,456.55 742.16,450.83"/><path d="M664.86,641.88 666.17,639.11 667.5,636.31 668.84,633.49 670.2,630.63 671.58,627.73 672.98,624.81 674.39,621.85 675.82,618.86 677.27,615.83 678.75,612.77 680.24,609.67 681.75,606.53 683.29,603.35 684.84,600.13 686.42,596.88 688.02,593.58 689.65,590.23 691.3,586.85 692.97,583.42 694.67,579.94 696.4,576.41 698.15,572.84 699.93,569.22 701.74,565.54 703.58,561.81 705.45,558.03 707.36,554.18 709.29,550.29 711.26,546.33 713.26,542.31 715.3,538.22 717.38,534.07 719.49,529.85 721.65,525.56 723.84,521.2 726.08,516.77 728.36,512.25 730.69,507.66 733.07,502.98 735.49,498.22 737.97,493.36 740.5,488.41 743.08,483.37 745.73,478.22 748.43,472.97 751.2,467.61 754.03,462.14 756.93,456.55 759.9,450.83"/></g>
<path d="M497,35 C496.22,35.33 494.12,36.23 492.3,37 C490.48,37.77 488.17,38.48 486.1,39.6 C484.03,40.72 481.8,42.23 479.9,43.7 C478,45.17 476.6,46.58 474.7,48.4 C472.8,50.22 470.73,52.53 468.5,54.6 C466.27,56.67 463.7,58.73 461.3,60.8 C458.9,62.87 456.68,64.77 454.1,67 C451.52,69.23 448.38,71.8 445.8,74.2 C443.22,76.6 440.48,79.33 438.6,81.4 C436.72,83.47 435.62,84.53 434.5,86.6 C433.38,88.67 432.85,91.12 431.9,93.8 C430.95,96.48 429.6,100.08 428.8,102.7 C428,105.32 427.67,107.23 427.1,109.5 C426.53,111.77 425.97,114.03 425.4,116.3 C424.83,118.57 424.27,120.98 423.7,123.1 C423.13,125.22 422.63,127.03 422,129 C421.37,130.97 420.75,132.78 419.9,134.9 C419.05,137.02 418.27,139.15 416.9,141.7 C415.53,144.25 413.42,147.93 411.7,150.2 C409.98,152.47 408.43,153.62 406.6,155.3 C404.77,156.98 402.53,158.82 400.7,160.3 C398.87,161.78 397.58,162.78 395.6,164.2 C393.62,165.62 390.92,167.18 388.8,168.8 C386.68,170.42 384.88,172.2 382.9,173.9 C380.92,175.6 378.73,177.3 376.9,179 C375.07,180.7 373.17,182.55 371.9,184.1 C370.63,185.65 369.73,186.75 369.3,188.3 C368.87,189.85 369.02,191.43 369.3,193.4 C369.58,195.37 370.48,198.53 371,200.1 C371.52,201.67 371.75,201.37 372.4,202.8 C373.05,204.23 374,206.73 374.9,208.7 C375.8,210.67 376.73,212.62 377.8,214.6 C378.87,216.58 380.13,218.62 381.3,220.6 C382.47,222.58 383.73,224.7 384.8,226.5 C385.87,228.3 386.67,229.72 387.7,231.4 C388.73,233.08 390.1,235.13 391,236.6 C391.9,238.07 392.47,239.03 393.1,240.2 C393.73,241.37 394.27,242.48 394.8,243.6 C395.33,244.72 395.9,245.8 396.3,246.9 C396.7,248 396.68,248.43 397.2,250.2 C397.72,251.97 398.6,255.18 399.4,257.5 C400.2,259.82 401.07,261.82 402,264.1 C402.93,266.38 403.97,268.85 405,271.2 C406.03,273.55 407.05,275.87 408.2,278.2 C409.35,280.53 410.68,282.83 411.9,285.2 C413.12,287.57 414.28,289.93 415.5,292.4 C416.72,294.87 417.75,297.2 419.2,300 C420.65,302.8 422.72,306.13 424.2,309.2 C425.68,312.27 426.92,315.58 428.1,318.4 C429.28,321.22 430.07,323.63 431.3,326.1 C432.53,328.57 433.87,330.83 435.5,333.2 C437.13,335.57 438.87,337.7 441.1,340.3 C443.33,342.9 446.68,346.33 448.9,348.8 C451.12,351.27 452.78,353.13 454.4,355.1 C456.02,357.07 457.27,358.83 458.6,360.6 C459.93,362.37 461.2,363.93 462.4,365.7 C463.6,367.47 464.88,369.58 465.8,371.2 C466.72,372.82 467.2,373.98 467.9,375.4 C468.6,376.82 468.88,377.87 470,379.7 C471.12,381.53 473.27,384.28 474.6,386.4 C475.93,388.52 476.87,390.55 478,392.4 C479.13,394.25 479.65,395.1 481.4,397.5 C483.15,399.9 486.55,404.27 488.5,406.8 C490.45,409.33 491.55,410.73 493.1,412.7 C494.65,414.67 496.32,416.62 497.8,418.6 C499.28,420.58 500.67,422.62 502,424.6 C503.33,426.58 504.52,428.53 505.8,430.5 C507.08,432.47 508.42,434.42 509.7,436.4 C510.98,438.38 512.38,440.42 513.5,442.4 C514.62,444.38 515.38,446.18 516.4,448.3 C517.42,450.42 518.65,453.12 519.6,455.1 C520.55,457.08 521.25,458.5 522.1,460.2 C522.95,461.9 523.78,463.62 524.7,465.3 C525.62,466.98 526.9,468.75 527.6,470.3 C528.3,471.85 528.9,473.18 528.9,474.6 C528.9,476.02 528.17,477.53 527.6,478.8 C527.03,480.07 525.78,481.07 525.5,482.2 C525.22,483.33 526.18,484.68 525.9,485.6 C525.62,486.52 524.85,487 523.8,487.7 C522.75,488.4 520.87,489.1 519.6,489.8 C518.33,490.5 517.33,490.9 516.2,491.9 C515.07,492.9 513.78,494.45 512.8,495.8 C511.82,497.15 510.98,498.47 510.3,500 C509.62,501.53 509.17,503.32 508.7,505 C508.23,506.68 507.62,508.4 507.5,510.1 C507.38,511.8 507.78,513.5 508,515.2 C508.22,516.9 508.8,518.47 508.8,520.3 C508.8,522.13 508.57,524.23 508,526.2 C507.43,528.17 506.18,530.27 505.4,532.1 C504.62,533.93 503.87,535.37 503.3,537.2 C502.73,539.03 502.28,541.12 502,543.1 C501.72,545.08 501.52,547.12 501.6,549.1 C501.68,551.08 502.03,552.97 502.5,555 C502.97,557.03 503.77,559.18 504.4,561.3 C505.03,563.42 505.55,565.87 506.3,567.7 C507.05,569.53 507.93,570.78 508.9,572.3 C509.87,573.82 511.1,575.18 512.1,576.8 C513.1,578.42 514.05,580.22 514.9,582 C515.75,583.78 516.75,585.52 517.2,587.5 C517.65,589.48 517.3,591.92 517.6,593.9 C517.9,595.88 518.38,597.4 519,599.4 C519.62,601.4 520.53,603.75 521.3,605.9 C522.07,608.05 522.98,610.47 523.6,612.3 C524.22,614.13 524.7,615.3 525,616.9 C525.3,618.5 525.33,621.07 525.4,621.9" fill="none" stroke="#ff0000" stroke-width="2.5" stroke-linejoin="round" stroke-linecap="square"/>
<path d="M386.5,34 C386.18,34.47 385.55,35.2 384.6,36.8 C383.65,38.4 382.15,41.33 380.8,43.6 C379.45,45.87 377.92,48.13 376.5,50.4 C375.08,52.67 373.7,54.93 372.3,57.2 C370.9,59.47 369.52,61.75 368.1,64 C366.68,66.25 365.22,68.58 363.8,70.7 C362.38,72.82 361.02,74.72 359.6,76.7 C358.18,78.68 356.58,80.77 355.3,82.6 C354.02,84.43 353.05,85.62 351.9,87.7 C350.75,89.78 349.27,93.02 348.4,95.1 C347.53,97.18 347.13,98.23 346.7,100.2 C346.27,102.17 346.08,104.65 345.8,106.9 C345.52,109.15 345.35,111.43 345,113.7 C344.65,115.97 344.2,118.23 343.7,120.5 C343.2,122.77 342.57,125.03 342,127.3 C341.43,129.57 340.78,131.85 340.3,134.1 C339.82,136.35 339.27,138.13 339.1,140.8 C338.93,143.47 338.7,147.7 339.3,150.1 C339.9,152.5 341.28,153.5 342.7,155.2 C344.12,156.9 346.1,158.75 347.8,160.3 C349.5,161.85 351.2,163.1 352.9,164.5 C354.6,165.9 356.52,167.28 358,168.7 C359.48,170.12 360.82,171.3 361.8,173 C362.78,174.7 363.55,177.07 363.9,178.9 C364.25,180.73 364.18,182.17 363.9,184 C363.62,185.83 362.98,188.07 362.2,189.9 C361.42,191.73 360.12,193.3 359.2,195 C358.28,196.7 357.4,198.42 356.7,200.1 C356,201.78 355.42,203.28 355,205.1 C354.58,206.92 354.13,209.03 354.2,211 C354.27,212.97 354.7,214.92 355.4,216.9 C356.1,218.88 357.33,221.2 358.4,222.9 C359.47,224.6 360.88,225.68 361.8,227.1 C362.72,228.52 363.68,230.13 363.9,231.4 C364.12,232.67 364.12,233.37 363.1,234.7 C362.08,236.03 359.32,237.98 357.8,239.4 C356.28,240.82 355.13,241.93 354,243.2 C352.87,244.47 351.78,245.73 351,247 C350.22,248.27 349.68,249.53 349.3,250.8 C348.92,252.07 348.73,253.47 348.7,254.6 C348.67,255.73 348.72,256.67 349.1,257.6 C349.48,258.53 350.12,259.42 351,260.2 C351.88,260.98 353.13,261.6 354.4,262.3 C355.67,263 357.4,263.83 358.6,264.4 C359.8,264.97 360.47,265.15 361.6,265.7 C362.73,266.25 363.92,266.8 365.4,267.7 C366.88,268.6 368.8,269.83 370.5,271.1 C372.2,272.37 374.18,273.75 375.6,275.3 C377.02,276.85 378.22,278.7 379,280.4 C379.78,282.1 380.17,283.67 380.3,285.5 C380.43,287.33 380.08,289.42 379.8,291.4 C379.52,293.38 378.8,295.42 378.6,297.4 C378.4,299.38 378.42,301.33 378.6,303.3 C378.78,305.27 379.02,307.37 379.7,309.2 C380.38,311.03 381.48,312.6 382.7,314.3 C383.92,316 385.73,317.7 387,319.4 C388.27,321.1 389.47,322.8 390.3,324.5 C391.13,326.2 391.85,328.05 392,329.6 C392.15,331.15 391.9,332.53 391.2,333.8 C390.5,335.07 389.28,336.13 387.8,337.2 C386.32,338.27 384.48,339.13 382.3,340.2 C380.12,341.27 377.38,342.62 374.7,343.6 C372.02,344.58 369.03,345.33 366.2,346.1 C363.37,346.87 360.53,347.57 357.7,348.2 C354.87,348.83 352.85,349.08 349.2,349.9 C345.55,350.72 339.43,352.23 335.8,353.1 C332.17,353.97 330.22,354.47 327.4,355.1 C324.58,355.73 321.73,356.32 318.9,356.9 C316.07,357.48 313.23,358.03 310.4,358.6 C307.57,359.17 304.72,359.73 301.9,360.3 C299.08,360.87 295.9,361.43 293.5,362 C291.1,362.57 288.78,362.98 287.5,363.7 C286.22,364.42 285.65,365.45 285.8,366.3 C285.95,367.15 287.12,368.03 288.4,368.8 C289.68,369.57 291.67,370.18 293.5,370.9 C295.33,371.62 297.72,372.18 299.4,373.1 C301.08,374.02 302.47,375.13 303.6,376.4 C304.73,377.67 305.63,379.42 306.2,380.7 C306.77,381.98 307.28,382.97 307,384.1 C306.72,385.23 305.9,386.52 304.5,387.5 C303.1,388.48 300.72,389.17 298.6,390 C296.48,390.83 294.07,391.77 291.8,392.5 C289.53,393.23 287.57,393.77 285,394.4 C282.43,395.03 279.33,395.6 276.4,396.3 C273.47,397 270.4,397.85 267.4,398.6 C264.4,399.35 261.42,400.05 258.4,400.8 C255.38,401.55 252.32,402.35 249.3,403.1 C246.28,403.85 243.15,404.55 240.3,405.3 C237.45,406.05 234.77,406.77 232.2,407.6 C229.63,408.43 226.87,409.4 224.9,410.3 C222.93,411.2 221.45,411.95 220.4,413 C219.35,414.05 218.67,415.4 218.6,416.6 C218.53,417.8 219.1,419 220,420.2 C220.9,421.4 222.42,422.58 224,423.8 C225.58,425.02 227.68,426.28 229.5,427.5 C231.32,428.72 233.25,429.83 234.9,431.1 C236.55,432.37 237.95,433.75 239.4,435.1 C240.85,436.45 241.92,437.8 243.6,439.2 C245.28,440.6 247.53,442.15 249.5,443.5 C251.47,444.85 253.42,446.17 255.4,447.3 C257.38,448.43 259.57,449.32 261.4,450.3 C263.23,451.28 264.72,452.08 266.4,453.2 C268.08,454.32 270.3,455.65 271.5,457 C272.7,458.35 273.45,460.02 273.6,461.3 C273.75,462.58 273.32,463.72 272.4,464.7 C271.48,465.68 270.08,466.43 268.1,467.2 C266.12,467.97 263.32,468.67 260.5,469.3 C257.68,469.93 254.17,470.5 251.2,471 C248.23,471.5 246.98,471.72 242.7,472.3 C238.42,472.88 231.27,473.78 225.5,474.5 C219.73,475.22 213.92,476.02 208.1,476.6 C202.28,477.18 196.42,477.57 190.6,478 C184.78,478.43 178.97,478.88 173.2,479.2 C167.43,479.52 162.25,479.65 156,479.9 C149.75,480.15 142.85,480.47 135.7,480.7 C128.55,480.93 120.48,481.13 113.1,481.3 C105.72,481.47 98.58,481.58 91.4,481.7 C84.22,481.82 76.07,481.62 70,482 C63.93,482.38 58.33,483.33 55,484 C51.67,484.67 50,485.3 50,486 C50,486.7 51.67,487.7 55,488.2 C58.33,488.7 63.93,488.8 70,489 C76.07,489.2 84.22,489.22 91.4,489.4 C98.58,489.58 105.72,489.83 113.1,490.1 C120.48,490.37 128.55,490.77 135.7,491 C142.85,491.23 149.75,491.35 156,491.5 C162.25,491.65 166.45,491.75 173.2,491.9 C179.95,492.05 188.75,492.23 196.5,492.4 C204.25,492.57 213.28,492.73 219.7,492.9 C226.12,493.07 229.22,493.17 235,493.4 C240.78,493.63 247.95,493.98 254.4,494.3 C260.85,494.62 267.25,494.92 273.7,495.3 C280.15,495.68 286.65,496.1 293.1,496.6 C299.55,497.1 306.25,497.73 312.4,498.3 C318.55,498.87 324.48,499.45 330,500 C335.52,500.55 340.33,501.03 345.5,501.6 C350.67,502.17 355.85,502.75 361,503.4 C366.15,504.05 371.25,504.82 376.4,505.5 C381.55,506.18 387.13,506.75 391.9,507.5 C396.67,508.25 401.32,509.28 405,510 C408.68,510.72 410.98,511.17 414,511.8 C417.02,512.43 420.08,513.05 423.1,513.8 C426.12,514.55 429.4,515.35 432.1,516.3 C434.8,517.25 437.2,518.3 439.3,519.5 C441.4,520.7 442.88,522.15 444.7,523.5 C446.52,524.85 448.23,526.4 450.2,527.6 C452.17,528.8 454.4,529.72 456.5,530.7 C458.6,531.68 461.15,532.52 462.8,533.5 C464.45,534.48 465.95,535.48 466.4,536.6 C466.85,537.72 465.73,538.88 465.5,540.2 C465.27,541.52 464.43,543.25 465,544.5 C465.57,545.75 467.28,546.62 468.9,547.7 C470.52,548.78 472.67,549.92 474.7,551 C476.73,552.08 478.95,553.13 481.1,554.2 C483.25,555.27 485.55,556.33 487.6,557.4 C489.65,558.47 491.68,559.52 493.4,560.6 C495.12,561.68 496.88,562.82 497.9,563.9 C498.92,564.98 499.28,565.95 499.5,567.1 C499.72,568.25 499.47,569.4 499.2,570.8 C498.93,572.2 498.33,574.07 497.9,575.5 C497.47,576.93 497.07,578.32 496.6,579.4 C496.13,580.48 495.35,580.65 495.1,582 C494.85,583.35 494.57,585.67 495.1,587.5 C495.63,589.33 497.07,591.32 498.3,593 C499.53,594.68 501.5,596.07 502.5,597.6 C503.5,599.13 503.92,600.37 504.3,602.2 C504.68,604.03 504.27,606.77 504.8,608.6 C505.33,610.43 506.28,611.67 507.5,613.2 C508.72,614.73 510.95,616.42 512.1,617.8 C513.25,619.18 514.02,620.88 514.4,621.5" fill="none" stroke="#008000" stroke-width="2.5" stroke-linejoin="round" stroke-linecap="square"/>
<text transform="translate(228.02 67.87) rotate(-45) scale(1.1382 1)" x="0.07 4.76 12.5 20.24" y="0" font-weight="bold" font-size="13.465" fill="#1f77b4" stroke="#1f77b4" stroke-width="0.07">-100</text>
<text transform="translate(254.24 115.25) rotate(-45) scale(1.1523 1)" x="0.05 4.59 12.3" y="0" font-weight="bold" font-size="13.465" fill="#1f77b4" stroke="#1f77b4" stroke-width="0.07">-90</text>
<text transform="translate(280.26 163.23) rotate(-45) scale(1.1377 1)" x="0.07 4.74 12.51" y="0" font-weight="bold" font-size="13.465" fill="#1f77b4" stroke="#1f77b4" stroke-width="0.07">-80</text>
<text transform="translate(307.92 208.83) rotate(-45) scale(1.1427 1)" x="0.06 4.65 12.44" y="0" font-weight="bold" font-size="13.465" fill="#1f77b4" stroke="#1f77b4" stroke-width="0.07">-70</text>
<text transform="translate(338.26 252.63) rotate(-45) scale(1.1530 1)" x="0.04 4.68 12.29" y="0" font-weight="bold" font-size="13.465" fill="#1f77b4" stroke="#1f77b4" stroke-width="0.07">-60</text>
<text transform="translate(371.16 293.9) rotate(-45) scale(1.1159 1)" x="0.12 4.94 12.82" y="0" font-weight="bold" font-size="13.465" fill="#1f77b4" stroke="#1f77b4" stroke-width="0.07">-50</text>
<text transform="translate(405.81 333.56) rotate(-45) scale(1.1240 1)" x="0.1 4.78 12.71" y="0" font-weight="bold" font-size="13.465" fill="#1f77b4" stroke="#1f77b4" stroke-width="0.07">-40</text>
<text transform="translate(440.14 371.25) rotate(-45) scale(1.1168 1)" x="0.12 4.93 12.81" y="0" font-weight="bold" font-size="13.465" fill="#1f77b4" stroke="#1f77b4" stroke-width="0.07">-30</text>
<text transform="translate(478.29 407.72) rotate(-45) scale(1.1160 1)" x="0.12 4.91 12.82" y="0" font-weight="bold" font-size="13.465" fill="#1f77b4" stroke="#1f77b4" stroke-width="0.07">-20</text>
<text transform="translate(516.73 442.95) rotate(-45) scale(1.1187 1)" x="0.11 4.91 12.78" y="0" font-weight="bold" font-size="13.465" fill="#1f77b4" stroke="#1f77b4" stroke-width="0.07">-10</text>
<text transform="translate(562.5 470.12) rotate(-45) scale(1.1870 1)" x="-0.02" y="0" font-weight="bold" font-size="13.465" fill="#7f7f7f" stroke="#7f7f7f" stroke-width="0.07">0</text>
<text transform="translate(600.69 507.98) rotate(-45) scale(1.1141 1)" x="0.23 8.13" y="0" font-weight="bold" font-size="13.465" fill="#d62728" stroke="#d62728" stroke-width="0.07">10</text>
<text transform="translate(642.24 537.46) rotate(-45) scale(1.1108 1)" x="0.21 8.17" y="0" font-weight="bold" font-size="13.465" fill="#d62728" stroke="#d62728" stroke-width="0.07">20</text>
<text transform="translate(686.29 567.28) rotate(-45) scale(1.1118 1)" x="0.24 8.16" y="0" font-weight="bold" font-size="13.465" fill="#d62728" stroke="#d62728" stroke-width="0.07">30</text>
<text transform="translate(730.43 597.19) rotate(-45) scale(1.1210 1)" x="0.12 8.06" y="0" font-weight="bold" font-size="13.465" fill="#d62728" stroke="#d62728" stroke-width="0.07">40</text>
<text transform="translate(214.66 448.69) rotate(-30) scale(1.1215 1)" x="0.19 8.14 12.35" y="0" font-weight="bold" font-size="13.465" fill="#1e90ff" stroke="#1e90ff" stroke-width="0.07">0.1</text>
<text transform="translate(261.32 449.01) rotate(-30) scale(1.1185 1)" x="0.21 8.17 12.37" y="0" font-weight="bold" font-size="13.465" fill="#1e90ff" stroke="#1e90ff" stroke-width="0.07">0.2</text>
<text transform="translate(311.69 448.71) rotate(-30) scale(1.1271 1)" x="0.18 8.09 12.18" y="0" font-weight="bold" font-size="13.465" fill="#1e90ff" stroke="#1e90ff" stroke-width="0.07">0.4</text>
<text transform="translate(342.78 448.79) rotate(-30) scale(1.1593 1)" x="0.07 7.81 11.85" y="0" font-weight="bold" font-size="13.465" fill="#1e90ff" stroke="#1e90ff" stroke-width="0.07">0.6</text>
<text transform="translate(389.03 449.23) rotate(-30) scale(1.0396 1)" x="0.53" y="0" font-weight="bold" font-size="13.465" fill="#1e90ff" stroke="#1e90ff" stroke-width="0.08">1</text>
<text transform="translate(416.82 449.42) rotate(-30) scale(1.0555 1)" x="0.46 8.77 13.36" y="0" font-weight="bold" font-size="13.465" fill="#1e90ff" stroke="#1e90ff" stroke-width="0.08">1.5</text>
<text transform="translate(446.97 449.35) rotate(-30) scale(1.0354 1)" x="0.5" y="0" font-weight="bold" font-size="13.465" fill="#1e90ff" stroke="#1e90ff" stroke-width="0.08">2</text>
<text transform="translate(483.83 448.75) rotate(-30) scale(1.0398 1)" x="0.51" y="0" font-weight="bold" font-size="13.465" fill="#1e90ff" stroke="#1e90ff" stroke-width="0.08">3</text>
<text transform="translate(510.29 449.3) rotate(-30) scale(1.0623 1)" x="0.33" y="0" font-weight="bold" font-size="13.465" fill="#1e90ff" stroke="#1e90ff" stroke-width="0.08">4</text>
<text transform="translate(549.75 448.69) rotate(-30) scale(1.1286 1)" x="0.2" y="0" font-weight="bold" font-size="13.465" fill="#1e90ff" stroke="#1e90ff" stroke-width="0.07">6</text>
<text transform="translate(577.97 448.6) rotate(-30) scale(1.0911 1)" x="0.28" y="0" font-weight="bold" font-size="13.465" fill="#1e90ff" stroke="#1e90ff" stroke-width="0.07">8</text>
<text transform="translate(596.98 449.25) rotate(-30) scale(1.1141 1)" x="0.23 8.13" y="0" font-weight="bold" font-size="13.465" fill="#1e90ff" stroke="#1e90ff" stroke-width="0.07">10</text>
<text transform="translate(623.92 448.95) rotate(-30) scale(1.0397 1)" x="0.53 8.98" y="0" font-weight="bold" font-size="13.465" fill="#1e90ff" stroke="#1e90ff" stroke-width="0.08">13</text>
<text transform="translate(646.04 448.95) rotate(-30) scale(1.0850 1)" x="0.34 8.49" y="0" font-weight="bold" font-size="13.465" fill="#1e90ff" stroke="#1e90ff" stroke-width="0.07">16</text>
<text transform="translate(670.38 448.95) rotate(-30) scale(1.1108 1)" x="0.21 8.17" y="0" font-weight="bold" font-size="13.465" fill="#1e90ff" stroke="#1e90ff" stroke-width="0.07">20</text>
<text transform="translate(695.08 448.95) rotate(-30) scale(1.0365 1)" x="0.5 9.04" y="0" font-weight="bold" font-size="13.465" fill="#1e90ff" stroke="#1e90ff" stroke-width="0.08">25</text>
<text transform="translate(715.52 448.95) rotate(-30) scale(1.1118 1)" x="0.24 8.16" y="0" font-weight="bold" font-size="13.465" fill="#1e90ff" stroke="#1e90ff" stroke-width="0.07">30</text>
<text transform="translate(736.23 448.95) rotate(-30) scale(1.0836 1)" x="0.34 8.5" y="0" font-weight="bold" font-size="13.465" fill="#1e90ff" stroke="#1e90ff" stroke-width="0.07">36</text>
<text transform="translate(754.09 448.95) rotate(-30) scale(1.0496 1)" x="0.38 8.84" y="0" font-weight="bold" font-size="13.465" fill="#1e90ff" stroke="#1e90ff" stroke-width="0.08">42</text>
</g>
<g stroke="#000" stroke-width="1.33" fill="none" stroke-linecap="square"><path d="M90.5,36.5 L753.5,36.5 M90.5,642.5 L753.5,642.5 M90.5,36.5 L90.5,642.5 M753.5,36.5 L753.5,642.5"/></g>
<path d="M84.67,36.5 L90.5,36.5 M84.67,215.5 L90.5,215.5 M84.67,319.5 L90.5,319.5 M84.67,393.5 L90.5,393.5 M84.67,451.5 L90.5,451.5 M84.67,498.5 L90.5,498.5 M84.67,537.5 L90.5,537.5 M84.67,572.5 L90.5,572.5 M84.67,602.5 L90.5,602.5 M84.67,629.5 L90.5,629.5 M90.5,642.5 L90.5,648.33 M164.5,642.5 L164.5,648.33 M238.5,642.5 L238.5,648.33 M311.5,642.5 L311.5,648.33 M385.5,642.5 L385.5,648.33 M459.5,642.5 L459.5,648.33 M532.5,642.5 L532.5,648.33 M606.5,642.5 L606.5,648.33 M680.5,642.5 L680.5,648.33 M753.5,642.5 L753.5,648.33" stroke="#000" stroke-width="1.33" fill="none"/>
<text transform="translate(249.25 26.8) scale(0.9688 1)" x="0.75 17.36 30.63 37.16 51.08 57.77 69.82 80.57 96.89 112.94 126 138.88 145.5 158.91 171.77 185.18 197.98 204.88 217.94 231.06 243.95 250.84 263.98 276.78 283.7 296.81 309.61 315.69 330.74 343.94" y="0" font-size="21.260" fill="#000000">wetPf2_GN05.2026.095.00.36.R17</text>
<text transform="translate(349.91 693.14) scale(1.0026 1)" x="-0.33 7.55 18.32 34.2 44.52 55.31 60.89 72.3 78.37 89.38 95.28 105.29 110.41 117.67 124.68 137.72" y="0" font-size="17.717" fill="#000000">Temperature (°C)</text>
<text transform="translate(25.14 399.06) rotate(-90) scale(0.9394 1)" x="-0.25 11.45 17.85 28.51 37.75 47.34 58.99 65.39 75.74 81.44 89.01 99.29 109.3 121.27" y="0" font-size="17.717" fill="#000000">Pressure (hPa)</text>
<text transform="translate(73.03 667.59) translate(6.98 -5.23) scale(1.2122 1.0955)" x="-5.18" y="5.89" font-size="17.717" fill="#000000">−</text><text transform="translate(73.03 667.59) scale(1.0647 1)" x="13.17 23.13" y="0" font-size="17.717" fill="#000000">40</text>
<text transform="translate(146.3 667.56) translate(6.98 -5.23) scale(1.2122 1.0955)" x="-5.18" y="5.89" font-size="17.717" fill="#000000">−</text><text transform="translate(146.3 667.56) scale(1.0532 1)" x="13.39 23.43" y="0" font-size="17.717" fill="#000000">30</text>
<text transform="translate(220.4 667.61) translate(6.98 -5.23) scale(1.2122 1.0955)" x="-5.18" y="5.89" font-size="17.717" fill="#000000">−</text><text transform="translate(220.4 667.61) scale(1.0556 1)" x="13.11 23.37" y="0" font-size="17.717" fill="#000000">20</text>
<text transform="translate(293.31 667.48) translate(6.98 -5.23) scale(1.2122 1.0955)" x="-5.18" y="5.89" font-size="17.717" fill="#000000">−</text><text transform="translate(293.31 667.48) scale(1.0548 1)" x="13.24 23.39" y="0" font-size="17.717" fill="#000000">10</text>
<text transform="translate(379.99 667.52) scale(0.9918 1)" x="0.42" y="0" font-size="17.717" fill="#000000">0</text>
<text transform="translate(448.62 667.42) scale(0.9706 1)" x="0.44 11.46" y="0" font-size="17.717" fill="#000000">10</text>
<text transform="translate(521.72 667.59) scale(0.9741 1)" x="0.29 11.4" y="0" font-size="17.717" fill="#000000">20</text>
<text transform="translate(595.8 667.47) scale(0.9721 1)" x="0.55 11.43" y="0" font-size="17.717" fill="#000000">30</text>
<text transform="translate(669.26 667.51) scale(0.9918 1)" x="0.41 11.11" y="0" font-size="17.717" fill="#000000">40</text>
<text transform="translate(742.84 667.48) scale(0.9639 1)" x="0.5 11.57" y="0" font-size="17.717" fill="#000000">50</text>
<text transform="translate(47.65 43.3) scale(0.9779 1)" x="0.4 11.33 22.18" y="0" font-size="17.717" fill="#000000">100</text>
<text transform="translate(46.65 221.91) scale(0.9801 1)" x="0.25 11.3 22.12" y="0" font-size="17.717" fill="#000000">200</text>
<text transform="translate(46.81 326.21) scale(0.9787 1)" x="0.51 11.32 22.16" y="0" font-size="17.717" fill="#000000">300</text>
<text transform="translate(46.82 400.35) scale(0.9918 1)" x="0.41 11.11 21.8" y="0" font-size="17.717" fill="#000000">400</text>
<text transform="translate(46.67 457.78) scale(0.9732 1)" x="0.45 11.41 22.31" y="0" font-size="17.717" fill="#000000">500</text>
<text transform="translate(46.12 504.73) scale(1.0031 1)" x="0.36 10.93 21.5" y="0" font-size="17.717" fill="#000000">600</text>
<text transform="translate(46.09 544.53) scale(0.9847 1)" x="0.42 11.22 21.99" y="0" font-size="17.717" fill="#000000">700</text>
<text transform="translate(46.37 578.87) scale(0.9953 1)" x="0.4 11.05 21.71" y="0" font-size="17.717" fill="#000000">800</text>
<text transform="translate(46.95 609.17) scale(1.0024 1)" x="0.31 10.94 21.52" y="0" font-size="17.717" fill="#000000">900</text>
<text transform="translate(36.46 636.23) scale(0.9815 1)" x="0.38 11.28 22.08 32.88" y="0" font-size="17.717" fill="#000000">1000</text>
</svg></body></html>
